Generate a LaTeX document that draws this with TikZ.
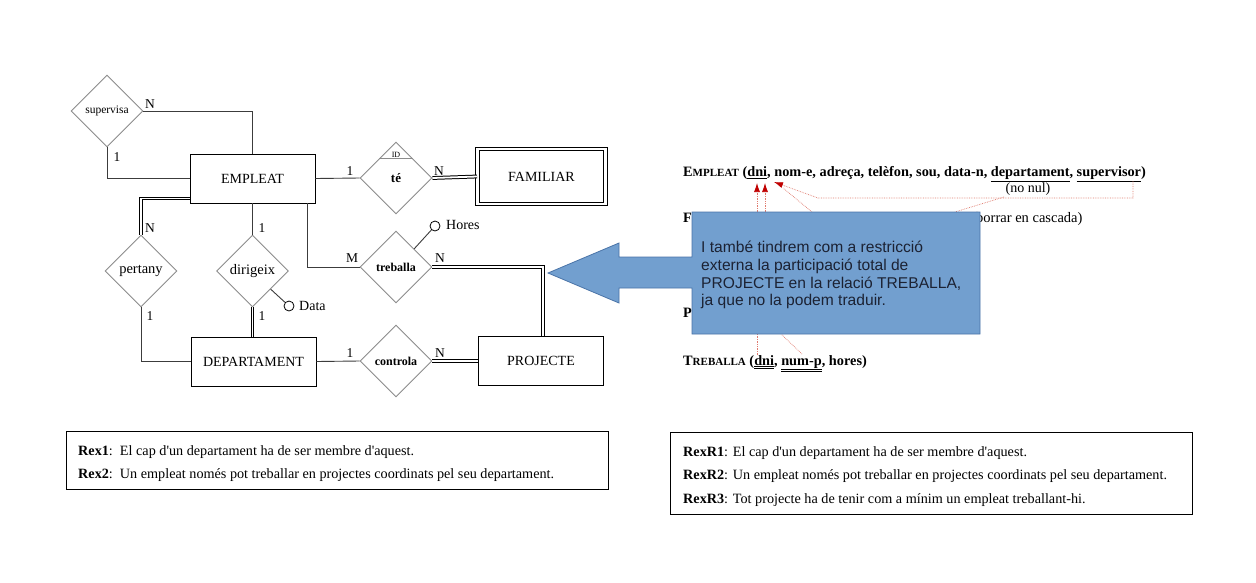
\documentclass[tikz,border=0pt]{standalone}
\usepackage{fontspec}
\setmainfont{Liberation Serif}
\newfontfamily\notafont{Liberation Sans}
\usetikzlibrary{arrows.meta,shapes.geometric}
\definecolor{liniaGris}{HTML}{3C3C3C}
\definecolor{romboGris}{HTML}{8C8C8C}
\definecolor{notaBlau}{HTML}{729FCF}
\definecolor{notaVora}{HTML}{4A74A8}
\definecolor{notaText}{HTML}{1C2233}
\definecolor{depVermell}{HTML}{E07A6E}
\definecolor{puntaVermell}{HTML}{C00000}
\newcommand{\mida}[1]{\fontsize{#1}{#1}\selectfont}
\newcommand{\versaleta}[2]{#1{\mida{11}#2}}
\newcommand{\ap}{\textquotesingle}
\tikzset{
  entitat/.style={draw=black, line width=0.9pt, minimum width=125pt, minimum height=49pt, inner sep=0pt, font=\mida{14}},
  entfeble/.style={entitat, line width=1pt, double, double distance=2.2pt, minimum width=128pt, minimum height=55pt},
  relacio/.style={diamond, aspect=1, draw=romboGris, line width=0.9pt, minimum width=72pt, minimum height=72pt, inner sep=0pt},
  enllac/.style={draw=liniaGris, line width=0.9pt},
  total/.style={draw=black, line width=1pt, double, double distance=1.8pt},
  card/.style={font=\mida{13.5}, inner sep=0pt},
  atribut/.style={circle, draw=black, line width=0.8pt, minimum size=10pt, inner sep=0pt},
  atrnom/.style={font=\mida{14}, anchor=west, inner sep=0pt},
  relText/.style={anchor=base west, inner sep=0pt, font=\mida{14.3}},
  dep/.style={draw=depVermell, densely dotted, line width=0.7pt},
  punta/.style={-{Latex[length=9pt,width=6pt,color=puntaVermell,fill=puntaVermell]}},
  caixaRex/.style={draw=black, line width=0.9pt, anchor=north west, inner sep=0pt},
  rexText/.style={anchor=base west, inner sep=0pt, font=\mida{14.2}},
}

\begin{document}
\begin{tikzpicture}[x=1pt,y=-1pt]
\useasboundingbox[fill=white] (0,0) rectangle (1256,582);

% model entitat-relacio
\node[entitat] (empleat) at (252.5,178.5) {EMPLEAT};
\node[entitat] (departament) at (253.5,361.5) {DEPARTAMENT};
\node[entitat] (projecte) at (541,361) {PROJECTE};
\node[entfeble] (familiar) at (541.5,176.5) {FAMILIAR};

\node[relacio, font=\mida{11.5}] (supervisa) at (107,111) {supervisa};
\node[relacio, font=\mida{13}\bfseries] (te) at (396,178) {té};
\node[relacio, font=\mida{12}\bfseries] (treballa) at (396,267) {treballa};
\node[relacio, font=\mida{14.5}] (pertany) at (141,271) {pertany};
\node[relacio, font=\mida{14.5}] (dirigeix) at (252.5,271) {dirigeix};
\node[relacio, font=\mida{12}\bfseries] (controla) at (396,361) {controla};
\draw[romboGris, line width=0.9pt] ([xshift=-17pt,yshift=-17pt]te.north) -- ([xshift=17pt,yshift=-17pt]te.north);
\node[font=\mida{8}, inner sep=0pt] (idTe) at (396,154.5) {ID};

\node[atribut] (hores) at (435,226) {};
\node[atrnom] (horesNom) at (446,225) {Hores};
\node[atribut] (data) at (289,306) {};
\node[atrnom] (dataNom) at (299,306) {Data};

\draw[enllac] (supervisa.east) -| (empleat.north);
\draw[enllac] (supervisa.south) |- (empleat.west);
\draw[enllac] (empleat.east) -- (te.west);
\draw[total] (te.east) -- (familiar.west);
\draw[total] ([yshift=5pt]empleat.south west) -| (pertany.north);
\draw[enllac] (pertany.south) |- (departament.west);
\draw[enllac] (empleat.south) -- (dirigeix.north);
\draw[total] (dirigeix.south) -- (dirigeix.south |- departament.north);
\draw[enllac] ([xshift=-8pt]empleat.south east) |- (treballa.west);
\draw[total] (treballa.east) -| ([xshift=2pt]projecte.north);
\draw[enllac] (departament.east) -- (controla.west);
\draw[total] (controla.east) -- (projecte.west);
\draw[enllac] (treballa.north east) -- (hores);
\draw[enllac] (dirigeix.south east) -- (data);

% cardinalitats
\node[card] (supN) at (150,104) {N};
\node[card] (sup1) at (117,157) {1};
\node[card] (te1) at (350,171) {1};
\node[card] (teN) at (439,171) {N};
\node[card] (perN) at (150,228) {N};
\node[card] (per1) at (150,316) {1};
\node[card] (dir1a) at (262,228) {1};
\node[card] (dir1b) at (262,316) {1};
\node[card] (trebM) at (352,258) {M};
\node[card] (trebN) at (440,258) {N};
\node[card] (con1) at (350,353) {1};
\node[card] (conN) at (440,353) {N};

% esquema relacional
\node[relText] (relEmpleat) at (683,176.5) {\bfseries\versaleta{E}{MPLEAT} (\underline{dni}, nom-e, adreça, telèfon, sou, data-n, \underline{departament}, \underline{supervisor})};
\node[font=\mida{14}, inner sep=0pt] (noNul) at (1028,189) {(no nul)};
\node[relText] (relFamiliar) at (683,222) {\bfseries F};
\node[relText, font=\mida{14.5}] (cascada) at (976,222) {borrar en cascada)};
\node[relText] (relProjecte) at (683,317) {\bfseries P};
\node[font=\mida{14}, inner sep=0pt] (noNulP) at (896,328) {(no nul)};
\node[relText] (relTreballa) at (683,365) {\bfseries\versaleta{T}{REBALLA} (\underline{\underline{dni}}, \underline{\underline{num-p}}, hores)};

\coordinate (dniA) at (757,183);
\coordinate (dniB) at (765,183);
\coordinate (dniC) at (774,182);
\coordinate (dniCbase) at (783,188);
\coordinate (famDni) at (757,212);
\coordinate (depDni) at (765,212);
\coordinate (dirDni) at (812,212);
\coordinate (supFk) at (1133,181);
\coordinate (supColze) at (1133,198);
\coordinate (supTorn) at (818,198);
\coordinate (depFk) at (1004,197);
\coordinate (depAvall) at (955,212);
\coordinate (trebDni) at (757,355);
\coordinate (trebNum) at (802,354);
\coordinate (prjDni) at (757,334);
\coordinate (prjNum) at (781,334);
\draw[dep, punta] (famDni) -- (dniA);
\draw[dep, punta] (depDni) -- (dniB);
\draw[dep] (dirDni) -- (dniCbase);
\draw[dep, punta] (supFk) -- (supColze) -- (supTorn) -- (dniC);
\draw[dep] (depFk) -- (depAvall);
\draw[dep] (trebDni) -- (prjDni);
\draw[dep] (trebNum) -- (prjNum);

% nota
\draw[fill=notaBlau, draw=notaVora, line width=0.8pt]
  (548,273) -- (619,243) -- (619,257) -- (692,257) -- (692,212) -- (980,212)
  -- (980,334) -- (692,334) -- (692,288) -- (619,288) -- (619,303) -- cycle;
\node[anchor=north west, inner sep=0pt, align=left, text=notaText,
  font=\notafont\fontsize{15.6}{17.7}\selectfont] (nota) at (701,241)
  {I també tindrem com a restricció\\externa la participació total de\\PROJECTE en la relació TREBALLA,\\ja que no la podem traduir.};

% restriccions externes
\node[caixaRex, minimum width=542pt, minimum height=58pt] (rexEsq) at (66,431) {};
\node[rexText] (rex1) at (78,455) {\textbf{Rex1}:\ \ El cap d\ap un departament ha de ser membre d\ap aquest.};
\node[rexText] (rex2) at (78,478) {\textbf{Rex2}:\ \ Un empleat només pot treballar en projectes coordinats pel seu departament.};
\node[caixaRex, minimum width=522pt, minimum height=82pt] (rexDre) at (670,432) {};
\node[rexText] (rexR1) at (683,456) {\textbf{RexR1}: El cap d\ap un departament ha de ser membre d\ap aquest.};
\node[rexText] (rexR2) at (683,479) {\textbf{RexR2}: Un empleat només pot treballar en projectes coordinats pel seu departament.};
\node[rexText] (rexR3) at (683,503) {\textbf{RexR3}: Tot projecte ha de tenir com a mínim un empleat treballant-hi.};
\end{tikzpicture}
\end{document}
